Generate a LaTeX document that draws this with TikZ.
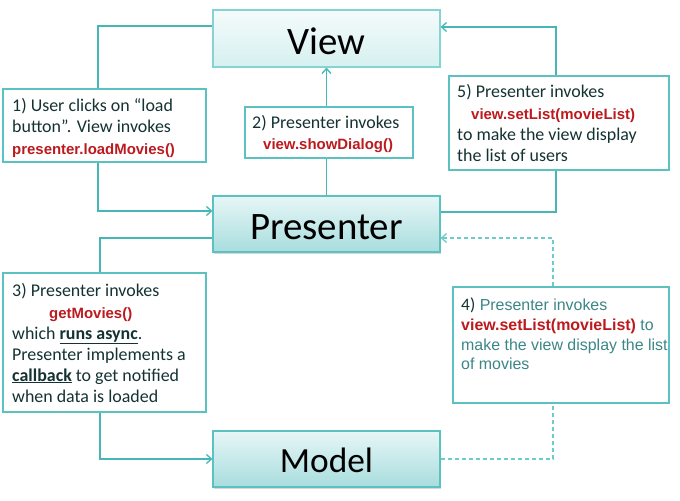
\documentclass[tikz,border=0pt]{standalone}
\usepackage{fontspec}
\setmainfont{Carlito}
\newfontfamily\codefont{Liberation Sans}
\usetikzlibrary{arrows.meta,shadows}
\definecolor{linec}{HTML}{45B7B7}
\definecolor{dashc}{HTML}{6CCBCB}
\definecolor{boxedge}{HTML}{5CC1C1}
\definecolor{viewedge}{HTML}{86D3D3}
\definecolor{textc}{HTML}{153232}
\definecolor{graytc}{HTML}{3C8686}
\definecolor{redc}{HTML}{BC1A1E}
\definecolor{viewtop}{HTML}{F5FBFB}
\definecolor{viewbot}{HTML}{D6F0F0}
\definecolor{ptop}{HTML}{E7F6F6}
\definecolor{pbot}{HTML}{A8DDDE}
\pgfdeclarelayer{background}
\pgfsetlayers{background,main}
\tikzset{
  bigbox/.style={draw=boxedge, line width=1.2bp, minimum width=227bp, inner sep=0pt,
    top color=ptop, bottom color=pbot,
    drop shadow={shadow xshift=1bp, shadow yshift=-1.5bp, opacity=0.25, fill=black!60}},
  textbox/.style={draw=boxedge, line width=1.2bp, fill=white, inner sep=0pt},
  conn/.style={draw=linec, line width=1.3bp},
  arr/.style={conn, -{Straight Barb[length=5bp,width=9bp]}},
  dconn/.style={draw=dashc, line width=1.3bp, dash pattern=on 4bp off 3bp},
  darr/.style={dconn, -{Straight Barb[length=5bp,width=9bp]}},
  txt/.style={anchor=base west, inner sep=0pt, font=\fontsize{18}{21}\selectfont, text=textc},
  code/.style={anchor=base west, inner sep=0pt, font=\codefont\bfseries\fontsize{15}{18}\selectfont, text=redc},
  gtxt/.style={anchor=base west, inner sep=0pt, font=\codefont\fontsize{16}{19}\selectfont, text=graytc},
  biglabel/.style={anchor=base, inner sep=0pt, font=\fontsize{39}{44}\selectfont, text=black}
}
\begin{document}
\begin{tikzpicture}[x=1bp,y=-1bp]
\useasboundingbox (0,0) rectangle (680,501);

% main boxes
\node[bigbox, minimum height=57bp, draw=viewedge, top color=viewtop, bottom color=viewbot] (view) at (326.5,38.5) {};
\node[bigbox, minimum height=56bp] (pres) at (326.5,224) {};
\node[bigbox, minimum height=56bp] (model) at (326.5,459) {};
\node[biglabel] (viewlbl) at (326.5,55) {View};
\node[biglabel] (preslbl) at (326.5,240) {Presenter};
\node[biglabel, font=\fontsize{35.5}{40}\selectfont] (modellbl) at (326.5,472) {Model};

% note boxes
\node[textbox, minimum width=203bp, minimum height=73bp] (b1) at (104.5,125.5) {};
\node[textbox, minimum width=168bp, minimum height=51bp] (b2) at (329,132.5) {};
\node[textbox, minimum width=220bp, minimum height=94bp] (b5) at (559,123) {};
\node[textbox, minimum width=203bp, minimum height=139bp] (b3) at (104.5,342.5) {};
\node[textbox, minimum width=216bp, minimum height=116bp] (b4) at (561,345) {};

% box 1
\node[txt] (b1a) at (12,112) {1) User clicks on “load};
\node[txt] (b1b) at (12,133) {button”. View invokes};
\node[code] (b1c) at (12,154.5) {presenter.loadMovies()};
% box 2
\node[txt] (b2a) at (252,129) {2) Presenter invokes};
\node[code] (b2b) at (263,150) {view.showDialog()};
% box 5
\node[txt] (b5a) at (457,98) {5) Presenter invokes};
\node[code] (b5b) at (471,120) {view.setList(movieList)};
\node[txt] (b5c) at (457,140.5) {to make the view display};
\node[txt] (b5d) at (457,161.5) {the list of users};
% box 3
\node[txt] (b3a) at (12,296) {3) Presenter invokes};
\node[code] (b3b) at (49,318) {getMovies()};
\node[txt] (b3c) at (12,339) {which \underline{\textbf{runs async}}.};
\node[txt] (b3d) at (12,360) {Presenter implements a};
\node[txt] (b3e) at (12,381) {\underline{\textbf{callback}} to get notified};
\node[txt] (b3f) at (12,402) {when data is loaded};
% box 4
\node[gtxt] (b4a) at (461,310) {{\rmfamily\fontsize{17.5}{19}\selectfont\color{textc}4)} Presenter invokes};
\node[gtxt] (b4b) at (461,330.5) {{\color{redc}\bfseries view.setList(movieList)} to};
\node[gtxt] (b4c) at (461,350.5) {make the view display the list};
\node[gtxt] (b4d) at (461,369.5) {of movies};

\begin{pgfonlayer}{background}
\fill[white] (0,0) rectangle (680,501);
% 1
\draw[conn] ([yshift=12.5bp]view.west) -| ([xshift=-6.5bp]b1.north);
\draw[arr] ([xshift=-6.5bp]b1.south) |- ([yshift=13bp]pres.west);
% 2
\draw[arr] (pres.north) -- (view.south);
% 5
\draw[conn] ([yshift=12bp]pres.east) -| ([xshift=-3bp]b5.south);
\draw[arr] ([xshift=-3bp]b5.north) |- ([yshift=11.5bp]view.east);
% 3
\draw[conn] ([yshift=-14bp]pres.west) -| ([xshift=-4.5bp]b3.north);
\draw[arr] ([xshift=-4.5bp]b3.south) |- (model.west);
% 4
\draw[dconn] (model.east) -| ([xshift=-8bp]b4.south);
\draw[darr] ([xshift=-8bp]b4.north) |- ([yshift=-14bp]pres.east);
\end{pgfonlayer}
\end{tikzpicture}
\end{document}
